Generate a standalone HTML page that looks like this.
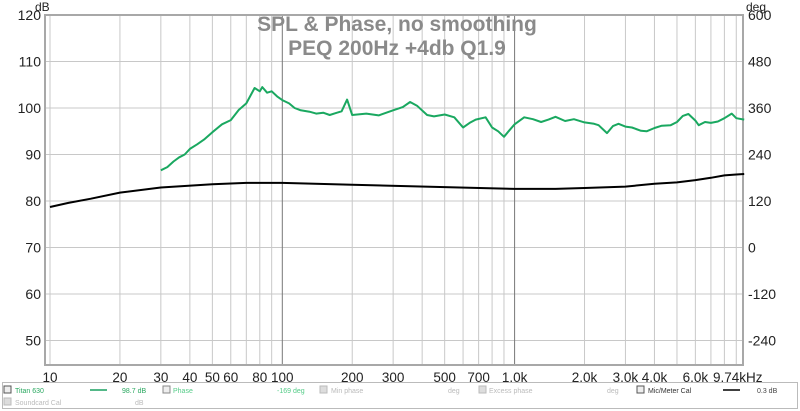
<!DOCTYPE html>
<html><head><meta charset="utf-8"><style>
body{margin:0;background:#fff;width:800px;height:411px;overflow:hidden;font-family:"Liberation Sans",sans-serif}
svg{display:block}
</style></head><body>
<svg id="chart" width="800" height="411" xmlns="http://www.w3.org/2000/svg">
<rect x="0" y="0" width="800" height="411" fill="#fff"/>
<g id="grid"></g>
<rect x="45" y="15" width="698" height="350" fill="none" stroke="#a8a8a8" stroke-width="2"/>
<g id="series"></g>
<g id="labels" font-size="14" fill="#222"></g>
<text x="35" y="11" font-size="12" fill="#222">dB</text>
<text x="746" y="11" font-size="12" fill="#222">deg</text>
<text x="397" y="31" font-size="21" font-weight="bold" fill="#8a8a8a" text-anchor="middle">SPL &amp; Phase, no smoothing</text>
<text x="397" y="55" font-size="21" font-weight="bold" fill="#8a8a8a" text-anchor="middle">PEQ 200Hz +4db Q1.9</text>
<g font-size="7">
<rect x="2.5" y="382.5" width="795" height="26" fill="#fff" stroke="#bbb"/>
<rect x="4" y="386" width="7" height="7" fill="#eee" stroke="#555"/>
<text x="15" y="393" fill="#2aa860">Titan 630</text>
<line x1="90" y1="390" x2="107" y2="390" stroke="#1aa060" stroke-width="1.5"/>
<text x="122" y="393" fill="#2aa860">98.7 dB</text>
<rect x="163" y="386" width="7" height="7" fill="#eee" stroke="#888"/>
<text x="173" y="393" fill="#55cc88">Phase</text>
<text x="277" y="393" fill="#55cc88">-169 deg</text>
<rect x="320" y="386" width="7" height="7" fill="#ddd" stroke="#bbb"/>
<text x="331" y="393" fill="#bbb">Min phase</text>
<text x="448" y="393" fill="#bbb">deg</text>
<rect x="479" y="386" width="7" height="7" fill="#ddd" stroke="#bbb"/>
<text x="489" y="393" fill="#bbb">Excess phase</text>
<text x="607" y="393" fill="#bbb">deg</text>
<rect x="637" y="386" width="7" height="7" fill="#eee" stroke="#555"/>
<text x="648" y="393" fill="#333">Mic/Meter Cal</text>
<line x1="723" y1="390" x2="740" y2="390" stroke="#000" stroke-width="1.5"/>
<text x="757" y="393" fill="#444">0.3 dB</text>
<rect x="4" y="398" width="7" height="7" fill="#ddd" stroke="#bbb"/>
<text x="15" y="405" fill="#bbb">Soundcard Cal</text>
<text x="135" y="405" fill="#bbb">dB</text>
</g>
</svg>
<script>
const gFreq=[30,32,34,36,38,40,43,46,50,55,60,65,70,76,80,82,86,90,95,100,107,113,120,131,140,150,160,170,180,190,200,210,230,260,300,330,355,380,420,450,500,550,600,640,680,750,800,850,900,950,1000,1100,1200,1300,1400,1500,1650,1800,2000,2200,2300,2500,2650,2800,3000,3200,3500,3700,4000,4300,4700,5000,5300,5600,6000,6200,6600,7000,7500,8000,8600,9000,9740];
const gDb=[86.6,87.3,88.5,89.4,90,91.2,92.2,93.2,94.8,96.5,97.4,99.6,101,104.3,103.6,104.5,103.3,103.6,102.5,101.7,101,100,99.5,99.2,98.8,99,98.5,98.9,99.3,101.8,98.5,98.6,98.8,98.4,99.5,100.2,101.3,100.5,98.5,98.2,98.6,98,95.8,96.8,97.5,98,95.8,95,93.8,95.2,96.5,98,97.6,97,97.5,98.1,97.2,97.6,96.9,96.6,96.3,94.6,96.1,96.6,96,95.8,95.1,95,95.7,96.2,96.3,97,98.3,98.7,97.3,96.3,97,96.8,97.1,97.8,98.8,97.8,97.5];
const bFreq=[10,12,15,20,30,50,70,100,200,500,1000,1500,2000,3000,4000,5000,6000,7000,8000,9000,9740];
const bDb=[78.7,79.6,80.5,81.8,82.9,83.6,83.9,83.9,83.5,83,82.6,82.6,82.8,83.1,83.7,84,84.5,85,85.5,85.7,85.8];
const yTicks=[120,110,100,90,80,70,60,50];
const degTicks=[600,480,360,240,120,0,-120,-240];
const xTickVals=[10,20,30,40,50,60,80,100,200,300,500,700,1000,2000,3000,4000,6000,9740];
const xTickText=["10","20","30","40","50","60","80","100","200","300","500","700","1.0k","2.0k","3.0k","4.0k","6.0k","9.74kHz"];
const NS="http://www.w3.org/2000/svg";
const X=f=>50+232.3*Math.log10(f/10);
const Y=d=>15+(120-d)*4.65;
function mk(tag,attrs,parent){const e=document.createElementNS(NS,tag);for(const k in attrs)e.setAttribute(k,attrs[k]);parent.appendChild(e);return e;}
const grid=document.getElementById('grid'),lab=document.getElementById('labels'),ser=document.getElementById('series');
yTicks.forEach((d,i)=>{
 const l=mk('line',{x1:45,x2:743,y1:Y(d),y2:Y(d),stroke:'#c8c8c8','stroke-width':1},grid);
 
 
 const t=mk('text',{x:41,y:Y(d)+5,'text-anchor':'end'},lab);t.textContent=d;
 
 
 const t2=mk('text',{x:748,y:Y(d)+5},lab);t2.textContent=degTicks[i];
 
 
});
const minor=[];for(let dec=10;dec<=1000;dec*=10)for(let m=1;m<=9;m++)minor.push(dec*m);
minor.forEach(f=>{if(X(f)>743)return;
 const l=mk('line',{x1:X(f),x2:X(f),y1:15,y2:365,stroke:(f===100||f===1000)?'#777':'#c8c8c8','stroke-width':1},grid);
 
 
});
xTickVals.forEach((f,i)=>{
 const last=i===xTickVals.length-1;
 const t=mk('text',{x:last?713:X(f),y:382,'text-anchor':last?'start':'middle','font-size':13.5},lab);t.textContent=xTickText[i];
 
 
});
const path=(fs,ds)=>fs.map((f,i)=>(i?'L':'M')+X(f).toFixed(1)+' '+Y(ds[i]).toFixed(1)).join(' ');
const g=mk('path',{d:path(gFreq,gDb),fill:'none',stroke:'#1aa860','stroke-width':2,'stroke-linejoin':'round'},ser);


const b=mk('path',{d:path(bFreq,bDb),fill:'none',stroke:'#000','stroke-width':2},ser);


</script>
</body></html>
